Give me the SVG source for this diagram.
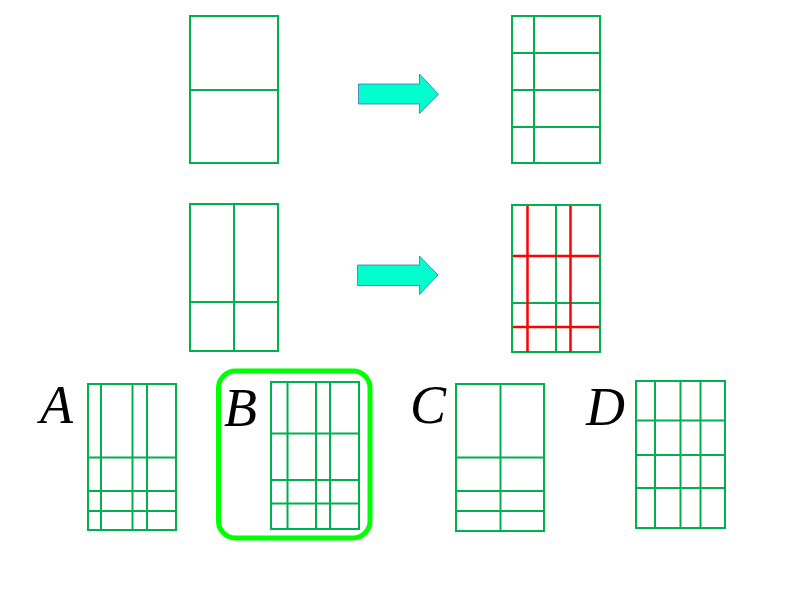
<svg xmlns="http://www.w3.org/2000/svg" width="800" height="600" viewBox="0 0 800 600">
<style>
.g{fill:none;stroke:#00B050;stroke-width:2}
.r{fill:none;stroke:#FF0000;stroke-width:2.5}
.arr{fill:#00FFCC;stroke:#3F6FBF;stroke-width:0.8}
.lbl{font-family:"Liberation Serif",serif;font-style:italic;font-size:54px;fill:#000}
</style>
<rect width="800" height="600" fill="#fff"/>
<g id="top-left">
<rect class="g" x="190" y="16" width="88" height="147"/>
<path class="g" d="M190 90H278"/>
</g>
<g id="top-right">
<rect class="g" x="512" y="16" width="88" height="147"/>
<path class="g" d="M534 16V163M512 53H600M512 90H600M512 127H600"/>
</g>
<g id="mid-left">
<rect class="g" x="190" y="204" width="88" height="147"/>
<path class="g" d="M234 204V351M190 302H278"/>
</g>
<g id="mid-right">
<rect class="g" x="512" y="205" width="88" height="147"/>
<path class="g" d="M556 205V352M512 303H600"/>
<path class="r" d="M527.5 206V352M570.5 206V352M513 256H599M513 327H599"/>
</g>
<g id="connectors">
<path class="arr" d="M358.5 84H419.5V74L438.5 94.3L419.5 113.5V104H358.5Z"/>
<path class="arr" d="M357.5 265H419.5V256L438 275L419.5 294.5V285.5H357.5Z"/>
</g>
<g id="A">
<text class="lbl" x="40" y="423">A</text>
<rect class="g" x="88" y="384" width="88" height="146"/>
<path class="g" d="M101 384V530M132.5 384V530M147 384V530M88 457.5H176M88 491H176M88 511H176"/>
</g>
<g id="B">
<rect x="218.5" y="371" width="151.5" height="167" rx="17" fill="none" stroke="#00FF00" stroke-width="5"/>
<text class="lbl" x="224" y="426">B</text>
<rect class="g" x="271" y="382" width="88" height="147"/>
<path class="g" d="M287.5 382V529M316 382V529M330 382V529M271 433.5H359M271 480H359M271 503.5H359"/>
</g>
<g id="C">
<text class="lbl" x="410" y="423">C</text>
<rect class="g" x="456" y="384" width="88" height="147"/>
<path class="g" d="M500.5 384V531M456 457.5H544M456 491H544M456 511H544"/>
</g>
<g id="D">
<text class="lbl" x="586" y="425">D</text>
<rect class="g" x="636" y="381" width="89" height="147"/>
<path class="g" d="M655 381V528M680.5 381V528M700.5 381V528M636 420.5H725M636 455H725M636 488H725"/>
</g>
</svg>
